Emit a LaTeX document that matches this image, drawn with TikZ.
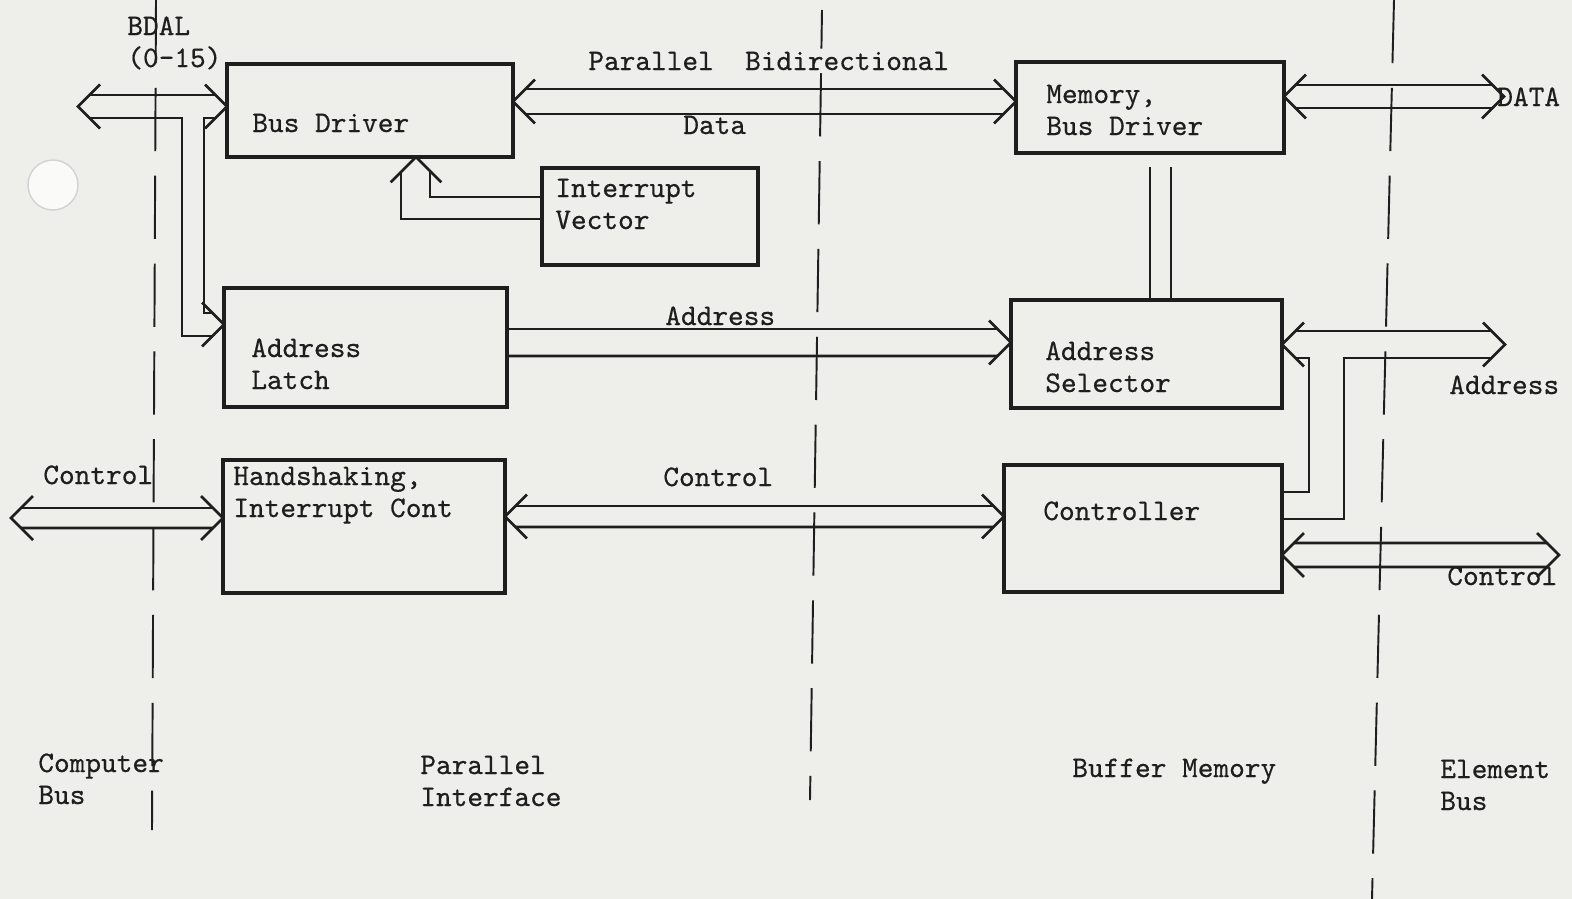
\documentclass[tikz,border=0pt]{standalone}
\usepackage{fontspec}
\setmonofont{lmmono10-regular}[Extension=.otf,FakeBold=0.5]
\usepackage{tikz}
\usetikzlibrary{calc}
\definecolor{ink}{RGB}{30,30,30}
\definecolor{paper}{RGB}{238,238,235}
\newcommand{\typewr}{\ttfamily\fontsize{17}{18.2}\selectfont}
\tikzset{
  block/.style={draw=ink,line width=2pt,inner sep=0pt,outer sep=0pt},
  lbl/.style={font=\typewr,text=ink,inner sep=0pt,anchor=base west,align=left},
  busline/.style={draw=ink,line width=1.5pt},
  divider/.style={draw=ink,line width=1.1pt,dash pattern=on 36pt off 14pt},
  chev/.pic={\draw[busline] (-22,-22) -- (0,0) -- (-22,22);}
}

\begin{document}
\begin{tikzpicture}[x=0.02cm,y=-0.02cm]
  \fill[paper] (0,0) rectangle (1572,899);
  \useasboundingbox (0,0) rectangle (1572,899);
  \draw[gray!35,line width=0.8pt,fill=white!70!paper] (53,185) circle[radius=25];

  % section dividers
  \draw[divider] (156,0) -- (152,830);
  \draw[divider,dash phase=14pt] (822,10) -- (810,800);
  \draw[divider] (1394,0) -- (1372,899);

  % blocks
  \node[block,minimum width=5.72cm,minimum height=1.86cm] (busdrv) at (370,110.5) {};
  \node[block,minimum width=4.32cm,minimum height=1.94cm] (intvec) at (650,216.5) {};
  \node[block,minimum width=5.66cm,minimum height=2.38cm] (latch)  at (365.5,347.5) {};
  \node[block,minimum width=5.64cm,minimum height=2.66cm] (hand)   at (364,526.5) {};
  \node[block,minimum width=5.36cm,minimum height=1.82cm] (membd)  at (1150,107.5) {};
  \node[block,minimum width=5.42cm,minimum height=2.16cm] (addsel) at (1146.5,354) {};
  \node[block,minimum width=5.56cm,minimum height=2.54cm] (ctrl)   at (1143,528.5) {};

  \node[lbl] (busdrvtxt) at (252,132) {Bus Driver};
  \node[lbl] (intvectxt) at (555,229) {Interrupt\\Vector};
  \node[lbl] (latchtxt)  at (251,389) {Address\\Latch};
  \node[lbl] (handtxt)   at (233,517) {Handshaking,\\Interrupt Cont};
  \node[lbl] (membdtxt)  at (1046,135) {Memory,\\Bus Driver};
  \node[lbl] (addseltxt) at (1045,392) {Address\\Selector};
  \node[lbl] (ctrltxt)   at (1043,520) {Controller};

  % BDAL bus
  \coordinate (bdal) at (78,106.5);
  \pic[rotate=180] at (bdal) {chev};
  \pic at ($(busdrv.west)+(0,-4)$) {chev};
  \pic at ($(latch.west)+(0,-23)$) {chev};
  \draw[busline] ($(bdal)+(12,-11.5)$) -- ($(busdrv.west)+(-12,-15.5)$);
  \draw[busline] ($(bdal)+(12,11.5)$) -- ($(busdrv.west)+(-45,7.5)$) |- ($(latch.west)+(-12,-11.5)$);
  \draw[busline] ($(busdrv.west)+(-12,7.5)$) -- ($(busdrv.west)+(-23,7.5)$) |- ($(latch.west)+(-12,-34.5)$);

  % parallel data bus
  \pic[rotate=180] at ($(busdrv.east)+(0,-9)$) {chev};
  \pic at ($(membd.west)+(0,-6)$) {chev};
  \draw[busline] ($(busdrv.east)+(12,-21.5)$) -- ($(membd.west)+(-12,-18.5)$);
  \draw[busline] ($(busdrv.east)+(12,3.5)$) -- ($(membd.west)+(-12,6.5)$);

  % interrupt vector into bus driver
  \pic[rotate=90,scale=1.15] at ($(busdrv.south)+(46,0)$) {chev};
  \draw[busline] ($(busdrv.south)+(31,14.5)$) |- ($(intvec.west)+(0,2.5)$);
  \draw[busline] ($(busdrv.south)+(60,14.5)$) |- ($(intvec.west)+(0,-19.5)$);

  % address bus
  \pic at ($(addsel.west)+(0,-11.5)$) {chev};
  \draw[busline] ($(latch.east)+(0,-18.5)$) -- ($(addsel.west)+(-13.5,-25)$);
  \draw[busline] ($(latch.east)+(0,8.5)$) -- ($(addsel.west)+(-13.5,2)$);

  % control buses
  \coordinate (ctlleft) at (11,518);
  \pic[rotate=180] at (ctlleft) {chev};
  \pic at ($(hand.west)+(0,-8.5)$) {chev};
  \draw[busline] ($(ctlleft)+(10,-10)$) -- ($(hand.west)+(-10,-18.5)$);
  \draw[busline] ($(ctlleft)+(10,10)$) -- ($(hand.west)+(-10,1.5)$);
  \pic[rotate=180] at ($(hand.east)+(0,-10)$) {chev};
  \pic at ($(ctrl.west)+(0,-12)$) {chev};
  \draw[busline] ($(hand.east)+(10.5,-20.5)$) -- ($(ctrl.west)+(-10.5,-22.5)$);
  \draw[busline] ($(hand.east)+(10.5,0.5)$) -- ($(ctrl.west)+(-10.5,-1.5)$);

  % memory data out
  \coordinate (dataend) at (1504,96.5);
  \pic[rotate=180] at ($(membd.east)+(0,-11)$) {chev};
  \pic at (dataend) {chev};
  \draw[busline] ($(membd.east)+(11.5,-22.5)$) -- ($(dataend)+(-11.5,-11.5)$);
  \draw[busline] ($(membd.east)+(11.5,0.5)$) -- ($(dataend)+(-11.5,11.5)$);

  % memory to selector
  \coordinate (vlink1) at ($(membd.south)+(0,14)$);
  \coordinate (vlink2) at ($(membd.south)+(21,14)$);
  \draw[busline] (vlink1) -- (vlink1 |- addsel.north);
  \draw[busline] (vlink2) -- (vlink2 |- addsel.north);

  % controller to selector and element address
  \coordinate (addrend) at (1505,344.5);
  \pic at (addrend) {chev};
  \pic[rotate=180] at ($(addsel.east)+(0,-9.5)$) {chev};
  \draw[busline] ($(addsel.east)+(13.5,-23)$) -- ($(addrend)+(-13.5,-13.5)$);
  \draw[busline] ($(addsel.east)+(13.5,4)$) -| ($(ctrl.east)+(27,-36.5)$) -- ($(ctrl.east)+(0,-36.5)$);
  \draw[busline] ($(addrend)+(-13.5,13.5)$) -| ($(ctrl.east)+(62,-9.5)$) -- ($(ctrl.east)+(0,-9.5)$);

  % element control
  \coordinate (ctlright) at (1559,555);
  \pic[rotate=180] at ($(ctrl.east)+(0,26.5)$) {chev};
  \pic at (ctlright) {chev};
  \draw[busline] ($(ctrl.east)+(12,14.5)$) -- ($(ctlright)+(-12,-12)$);
  \draw[busline] ($(ctrl.east)+(12,38.5)$) -- ($(ctlright)+(-12,12)$);

  % bus labels
  \node[lbl] (bdallbl)     at (127,67) {BDAL\\(0-15)};
  \node[lbl] (datalbl)     at (588,70) {Parallel\ \ Bidirectional};
  \node[lbl] (datalbl2)    at (683,134) {Data};
  \node[lbl] (addrlbl)     at (665,325) {Address};
  \node[lbl] (ctlleftlbl)  at (43,484) {Control};
  \node[lbl] (ctlmidlbl)   at (663,486) {Control};
  \node[lbl] (dataoutlbl)  at (1497,106) {DATA};
  \node[lbl] (addroutlbl)  at (1449,394) {Address};
  \node[lbl] (ctlrightlbl) at (1447,585) {Control};

  % section names
  \node[lbl] (zone1) at (38,804) {Computer\\Bus};
  \node[lbl] (zone2) at (420,806) {Parallel\\Interface};
  \node[lbl] (zone3) at (1072,777) {Buffer Memory};
  \node[lbl] (zone4) at (1440,810) {Element\\Bus};
\end{tikzpicture}
\end{document}
